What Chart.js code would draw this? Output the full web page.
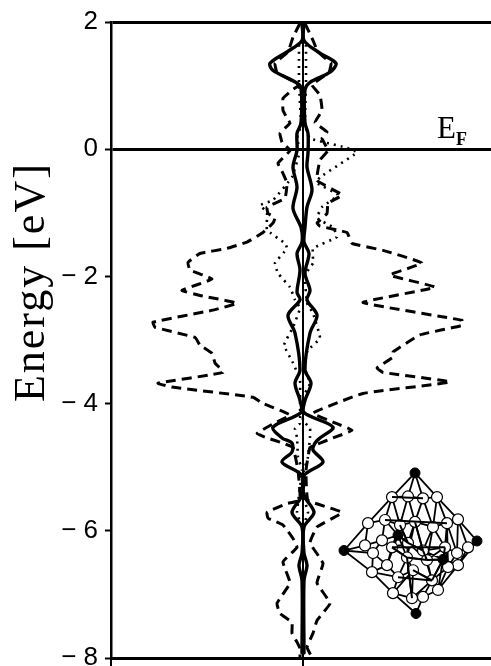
<!DOCTYPE html>
<html><head><meta charset="utf-8">
<style>html,body{margin:0;padding:0;background:#fff}canvas{display:block}</style>
<script src="https://cdn.jsdelivr.net/npm/chart.js@4"></script>
</head><body><canvas id="c" width="491" height="666"></canvas>
<script>
const yTicks=[2,0,-2,-4,-6,-8];
const yTitle="Energy [eV]";
const fermiMain="E", fermiSub="F";
const dashLeftE=[1.98,1.76,1.53,1.35,1.21,1.01,.93,.80,.61,.49,.41,.25,.11,-.02,-.22,-.38,-.53,-.77,-.91,-1.01,-1.08,-1.16,-1.31,-1.46,-1.56,-1.64,-1.78,-1.90,-2.04,-2.22,-2.30,-2.42,-2.53,-2.72,-2.80,-2.96,-3.08,-3.21,-3.36,-3.51,-3.68,-3.74,-3.90,-3.99,-4.18,-4.32,-4.47,-4.54,-4.62,-4.69,-5.05,-5.52,-5.57,-5.71,-5.80,-5.91,-6.12,-6.26,-6.49,-6.82,-7.14,-7.30,-7.44,-7.61,-7.75,-7.85,-8.00];
const dashLeftD=[-3,-10,-15,-28,-26,-4,-11,-20,-20,-16,-13,-23,-21,-13,-25,-20,-16,-18,-36,-35,-28,-30,-40,-56,-76,-103,-115,-113,-91,-121,-103,-66,-90,-150,-148,-108,-103,-91,-88,-80,-145,-131,-50,-41,-13,-30,-46,-36,-20,-10,-5,-3,-16,-36,-35,-20,-10,-6,-20,-13,-26,-23,-11,-11,-6,-3,-3];
const dashRightE=[1.98,1.71,1.53,1.35,1.21,1.01,.85,.61,.42,.27,.17,-.02,-.17,-.49,-.72,-.85,-1.01,-1.16,-1.21,-1.31,-1.48,-1.59,-1.79,-1.98,-2.17,-2.41,-2.69,-2.77,-2.92,-3.19,-3.27,-3.44,-3.51,-3.66,-3.84,-4.15,-4.29,-4.42,-4.54,-4.62,-4.69,-5.05,-5.52,-5.71,-5.94,-6.19,-6.51,-6.82,-7.14,-7.41,-7.61,-7.83,-7.99];
const dashRightD=[2,10,15,28,26,9,17,19,12,24,19,25,17,14,39,25,24,14,17,44,49,80,119,87,132,60,159,159,117,90,90,74,80,147,60,10,30,49,30,17,7,3,5,39,14,7,20,14,27,14,10,4,9];
const solidLeftE=[1.98,1.71,1.53,1.35,1.24,1.04,.96,.41,.25,-.02,-.28,-.60,-.93,-1.23,-1.46,-1.64,-1.90,-2.25,-2.37,-2.61,-2.89,-3.47,-3.68,-3.95,-4.14,-4.37,-4.54,-4.62,-4.76,-4.92,-5.13,-5.44,-5.71,-5.94,-6.35,-6.54,-6.78,-7.92];
const solidLeftD=[-1,-1,-16,-33,-30,-6,-2,-2,-6,-6,-10,-6,-10,-2,-1,-6,-3,-6,-3,-15,-8,-3,-8,-3,-2,-30,-21,-11,-11,-21,-1,-1,-11,-1,-1,-4,-1,-1];
const solidRightE=[1.98,1.71,1.51,1.35,1.21,1.05,.93,.41,.25,-.06,-.28,-.64,-.91,-1.23,-1.46,-1.64,-1.95,-2.22,-2.37,-2.61,-2.89,-3.47,-3.68,-3.95,-4.14,-4.37,-4.54,-4.62,-4.73,-4.92,-5.13,-5.44,-5.71,-5.94,-6.35,-6.54,-6.78,-7.92];
const solidRightD=[1,1,17,33,27,7,2,2,5,5,4,9,4,2,1,6,2,7,4,14,7,2,8,2,1,30,17,12,10,20,1,1,11,1,1,4,1,1];
const dotLeftE=[1.64,1.0,.38,.17,-.02,-.44,-.80,-.88,-.99,-1.27,-1.48,-1.56,-1.79,-1.95,-2.17,-2.37,-2.50,-2.80,-3.08,-3.36,-3.63,-3.90,-4.31,-4.39,-4.53,-4.84,-5.05,-5.71,-5.94];
const dotLeftD=[-4,-4,-2,-6,-3,-11,-30,-43,-36,-36,-18,-16,-28,-25,-13,-8,-3,-10,-19,-10,-3,-3,-3,-8,-6,-5,-1,-6,-1];
const dotRightE=[1.64,1.0,.38,.17,.03,-.05,-.44,-.53,-.72,-.91,-1.08,-1.23,-1.38,-1.56,-1.79,-1.98,-2.42,-2.58,-2.97,-3.16,-3.36,-3.68,-3.90,-4.26,-4.39,-4.53,-4.84,-5.05,-5.44,-5.71,-5.94];
const dotRightD=[3,3,2,7,42,54,17,14,35,19,14,30,34,10,10,2,4,10,17,5,0,7,0,0,7,7,5,1,0,5,0];
const centreE=[2,-8];
const centreD=[0,0];
const whiteAtomX=[89,105,120,134,65,82,97,112,130,144,155,62,79,89,105,120,142,154,165,69,84,95,104,110,129,135,90,109,120,155,145,124,70];
const whiteAtomE=[-5.47,-5.46,-5.49,-5.47,-5.88,-5.83,-5.91,-5.86,-5.94,-5.88,-5.82,-6.23,-6.15,-6.26,-6.19,-6.31,-6.26,-6.35,-6.26,-6.65,-6.54,-6.73,-6.42,-6.62,-6.78,-6.93,-6.98,-7.06,-7.04,-6.54,-6.57,-6.46,-6.35];
const blackAtomX=[112,41,174,113,95,140];
const blackAtomE=[-5.09,-6.31,-6.16,-7.30,-6.07,-6.45];
const bondPairs=[[33,0],[0,4],[4,34],[34,19],[19,26],[26,36],[36,28],[28,25],[25,29],[29,35],[35,10],[10,3],[3,33],[33,1],[33,2],[0,1],[1,2],[2,3],[0,5],[0,6],[1,6],[1,7],[2,7],[2,8],[3,8],[3,9],[5,6],[6,7],[7,8],[8,9],[9,10],[4,5],[4,11],[5,12],[5,37],[6,37],[6,14],[7,14],[7,15],[8,15],[8,16],[9,16],[9,17],[10,18],[10,17],[18,35],[17,35],[18,17],[16,17],[16,30],[30,29],[29,18],[11,12],[11,32],[32,19],[12,13],[13,14],[14,15],[15,16],[13,20],[20,21],[21,22],[22,23],[22,14],[22,31],[31,15],[31,38],[38,16],[38,30],[23,21],[23,24],[24,25],[24,38],[25,30],[19,20],[19,21],[21,26],[26,27],[27,28],[23,27],[24,28],[34,11],[34,32],[37,13],[37,14],[15,38],[12,32],[20,32],[6,13],[13,22],[14,31],[15,24],[31,24],[22,27],[20,13],[37,12],[37,20],[37,22],[38,29],[16,31],[9,30],[8,31],[7,22],[30,24],[25,38],[17,30],[17,29],[27,24],[26,23]];
const frontBondPairs=[[37,14],[14,15],[22,31],[31,38],[24,38],[16,38],[13,22],[22,27],[7,15],[6,14],[31,15],[23,24],[0,2],[5,9],[13,16],[21,24]];

const zip=(x,y)=>x.map((v,i)=>({x:v,y:y[i]}));
const atomX=whiteAtomX.concat(blackAtomX), atomE=whiteAtomE.concat(blackAtomE);
const toSegments=pairs=>{const out=[];pairs.forEach(([a,b])=>{out.push({x:atomX[a],y:atomE[a]},{x:atomX[b],y:atomE[b]},{x:null,y:null});});return out;};
const curve=(data,width,dash,tension)=>({type:'scatter',showLine:true,data,borderColor:'#000',borderWidth:width,borderDash:dash,tension,pointRadius:0,fill:false,borderCapStyle:dash.length?'butt':'round'});
const labels={
  id:'labels',
  afterDraw(ch){
    const c=ch.ctx,s=ch.scales;
    c.save();c.fillStyle='#000';c.textBaseline='alphabetic';
    c.save();c.translate(44,s.y.getPixelForValue(-2.09));c.rotate(-Math.PI/2);
    c.textAlign='center';c.font='44px "Liberation Serif"';c.letterSpacing='2px';c.fillText(yTitle,0,0);c.restore();
    c.textAlign='left';
    const fx=s.x.getPixelForValue(134), fy=s.y.getPixelForValue(.17);
    c.font='31px "Liberation Serif"';c.fillText(fermiMain,fx,fy);
    c.font='bold 18px "Liberation Serif"';c.fillText(fermiSub,fx+19,fy+7);
    c.restore();
  }
};
new Chart(document.getElementById('c'),{
  type:'scatter',
  data:{datasets:[
    {type:'scatter',data:zip(blackAtomX,blackAtomE),pointRadius:5,pointBackgroundColor:'#000',pointBorderColor:'#000',showLine:false},
    {type:'scatter',showLine:true,data:toSegments(frontBondPairs),borderColor:'#000',borderWidth:2,pointRadius:0,spanGaps:false},
    {type:'scatter',data:zip(whiteAtomX,whiteAtomE),pointRadius:5.5,pointBackgroundColor:'#fff',pointBorderColor:'#000',pointBorderWidth:1.2,showLine:false},
    {type:'scatter',showLine:true,data:toSegments(bondPairs),borderColor:'#000',borderWidth:1.8,pointRadius:0,spanGaps:false},
    curve(zip(solidLeftD,solidLeftE),3.4,[],.3),
    curve(zip(solidRightD,solidRightE),3.4,[],.3),
    curve(zip(centreD,centreE),2,[],0),
    curve(zip(dashLeftD,dashLeftE),3,[10,6],.1),
    curve(zip(dashRightD,dashRightE),3,[10,6],.1),
    curve(zip(dotLeftD,dotLeftE),2.6,[2,5],.1),
    curve(zip(dotRightD,dotRightE),2.6,[2,5],.1)
  ]},
  options:{
    responsive:false,animation:false,
    layout:{autoPadding:false,padding:{top:22,right:0,bottom:0,left:0}},
    plugins:{legend:{display:false},tooltip:{enabled:false},title:{display:false}},
    scales:{
      x:{type:'linear',min:-192,max:188,
        afterFit(a){a.height=8;a.paddingLeft=0;a.paddingRight=0;},
        afterBuildTicks(a){a.ticks=[{value:-192},{value:0}];},
        ticks:{display:false},
        border:{color:'#000',width:3},
        grid:{drawOnChartArea:false,color:'#000',tickColor:'#000',tickLength:8,lineWidth:2}},
      y:{type:'linear',min:-8,max:2,
        afterFit(a){a.width=111;a.paddingTop=0;a.paddingBottom=0;},
        afterBuildTicks(a){a.ticks=yTicks.map(v=>({value:v}));},
        ticks:{color:'#000',padding:7,font:{family:'"Liberation Sans"',size:26},
          callback:v=>String(v).replace('-','\u2212 ')},
        border:{color:'#000',width:2.5},
        grid:{color:c=>[2,0,-8].includes(c.tick.value)?'#000':'rgba(0,0,0,0)',lineWidth:3,tickColor:'#000',tickLength:6,tickWidth:2}}
    }
  },
  plugins:[labels]
});
</script></body></html>
